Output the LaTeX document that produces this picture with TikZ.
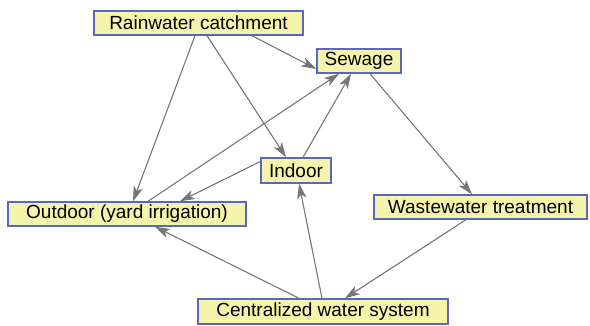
\documentclass[tikz,border=0pt]{standalone}
\usepackage{fontspec}
\setmainfont{Liberation Sans}
\usetikzlibrary{arrows.meta}
\definecolor{boxfill}{RGB}{246,243,172}
\definecolor{boxline}{RGB}{88,102,196}
\definecolor{edgecol}{RGB}{118,118,122}
\begin{document}
\begin{tikzpicture}[x=1pt,y=-1pt,
  box/.style={draw=boxline,fill=boxfill,line width=1.4pt,inner sep=0pt,
    minimum height=24pt,font=\fontsize{19}{22}\selectfont},
  link/.style={draw=edgecol,line width=1.1pt,-{Stealth[length=15pt,width=9.5pt,inset=4pt]}}]
\useasboundingbox (0,0) rectangle (590,326);
\node[box,minimum width=209pt] (rain) at (198.5,23) {Rainwater catchment};
\node[box,minimum width=84pt] (sew) at (359,61) {Sewage};
\node[box,minimum width=70pt,minimum height=25pt] (ind) at (296,170.5) {Indoor};
\node[box,minimum width=238pt] (out) at (127,214) {Outdoor (yard irrigation)};
\node[box,minimum width=213pt] (ww) at (480.5,207) {Wastewater treatment};
\node[box,minimum width=250pt,minimum height=25pt] (cen) at (323,311.5) {Centralized water system};
\draw[link] ([xshift=53.5pt]rain.south) -- ([yshift=-8pt]sew.west);
\draw[link] ([xshift=-3.5pt]rain.south) -- ([xshift=6pt]out.north);
\draw[link] ([xshift=8.5pt]rain.south) -- ([xshift=-10pt]ind.north);
\draw[link] ([xshift=21pt]out.north) -- ([xshift=-20pt]sew.south);
\draw[link] ([xshift=7pt]ind.north) -- ([xshift=-8pt]sew.south);
\draw[link] ([yshift=9pt]ind.west) -- ([xshift=53pt]out.north);
\draw[link] ([xshift=11pt]sew.south) -- ([xshift=-8.5pt]ww.north);
\draw[link] ([xshift=-14.5pt]ww.south) -- ([xshift=22pt]cen.north);
\draw[link] ([xshift=-1pt]cen.north) -- ([xshift=3pt]ind.south);
\draw[link] ([xshift=-24pt]cen.north) -- ([xshift=28pt]out.south);
\end{tikzpicture}
\end{document}
